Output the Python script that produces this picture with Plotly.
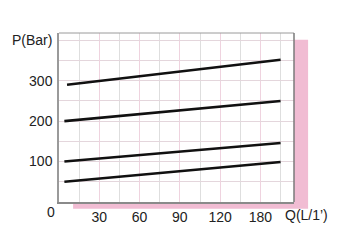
import plotly.graph_objects as go

# Data
flow = [4, 165]
series = {
    "line_300": [290, 352],
    "line_200": [200, 250],
    "line_100": [100, 146],
    "line_50": [50, 99],
}
x_tickvals = [30, 60, 90, 120, 150]
x_ticktext = ["30", "60", "90", "120", "180"]
y_tickvals = [100, 200, 300, 400]
y_ticktext = ["100", "200", "300", "P(Bar)"]

fig = go.Figure()
for name, vals in series.items():
    xs = flow if name != "line_300" else [6, 165]
    fig.add_trace(go.Scatter(x=xs, y=vals, mode="lines", name=name,
                             line=dict(color="#111111", width=2.6),
                             showlegend=False, hoverinfo="skip"))

font = dict(family="Liberation Sans, Arial, sans-serif", size=14, color="#222222")

fig.update_layout(
    width=339, height=245,
    margin=dict(l=57, r=45, t=33, b=43),
    paper_bgcolor="white", plot_bgcolor="white",
    font=font,
    xaxis=dict(range=[0, 175], tickvals=x_tickvals, ticktext=x_ticktext,
               showgrid=True, gridcolor="#efd3df", gridwidth=1,
               minor=dict(dtick=15, tick0=0, showgrid=True, gridcolor="#dedede", gridwidth=1),
               showline=True, linecolor="#8a8a8a", linewidth=2, mirror=False,
               ticks="outside", ticklen=1, tickcolor="rgba(0,0,0,0)",
               zeroline=False, tickfont=font, fixedrange=True),
    yaxis=dict(range=[0, 418], tickvals=y_tickvals, ticktext=y_ticktext,
               showgrid=True, gridcolor="#e4d6dc", gridwidth=1,
               minor=dict(dtick=50, tick0=0, showgrid=True, gridcolor="#e4d6dc", gridwidth=1),
               showline=True, linecolor="#9a9a9a", linewidth=1.5,
               ticks="outside", ticklen=2, tickcolor="rgba(0,0,0,0)",
               zeroline=False, tickfont=font, fixedrange=True),
    shapes=[
        # pink drop shadow
        dict(type="rect", xref="paper", yref="paper", x0=0.06, x1=1.06, y0=-0.04, y1=0.96,
             fillcolor="#f1bcd3", line=dict(width=0), layer="below"),
        # white plot area over the shadow
        dict(type="rect", xref="paper", yref="paper", x0=0, x1=1, y0=0, y1=1,
             fillcolor="white", line=dict(width=0), layer="below"),
        # top and right frame
        dict(type="line", xref="paper", yref="paper", x0=0, x1=1, y0=1, y1=1,
             line=dict(color="#9a9a9a", width=1)),
        dict(type="line", xref="paper", yref="paper", x0=1, x1=1, y0=0, y1=1,
             line=dict(color="#7a7a7a", width=1.5)),
    ],
    annotations=[
        dict(text="0", xref="paper", yref="paper", x=0, y=0, xanchor="right", yanchor="top",
             xshift=-2, yshift=0, showarrow=False, font=font),
        dict(text="Q(L/1\u2019)", xref="paper", yref="paper", x=0.954, y=0, xanchor="left",
             yanchor="top", yshift=-3, showarrow=False, font=font),
    ],
)

fig.write_html("out.html")
